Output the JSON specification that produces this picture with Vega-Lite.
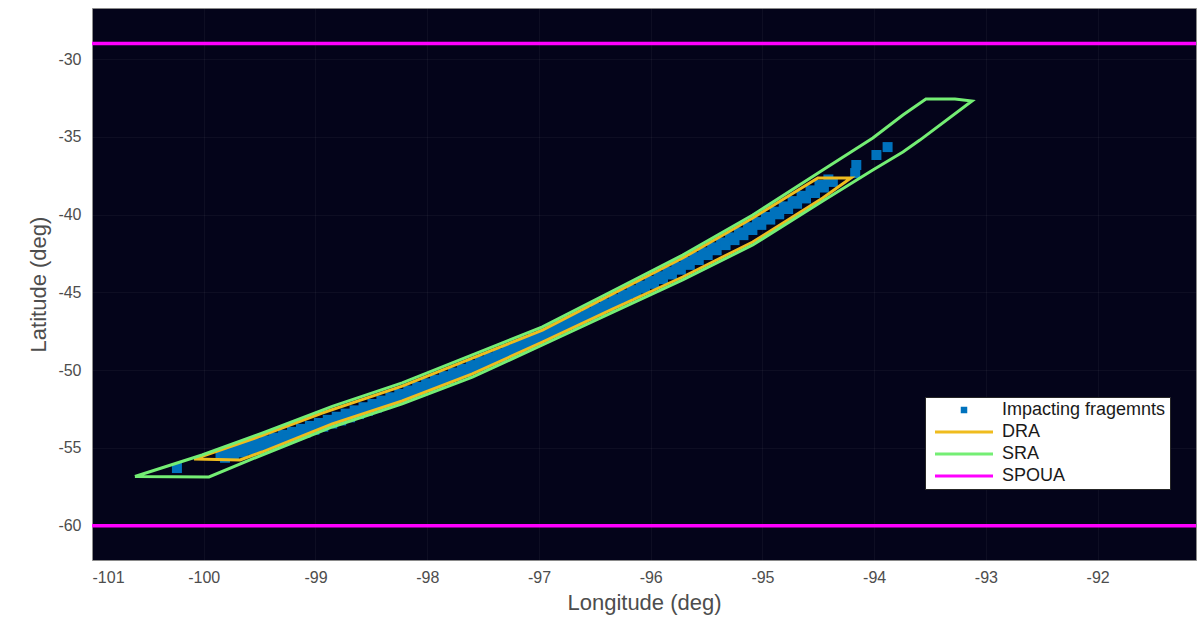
{
"$schema": "https://vega.github.io/schema/vega-lite/v6.json",
"width": 1104, "height": 552,
"autosize": {"type": "none"},
"padding": {"left": 92, "top": 8, "right": 6, "bottom": 60},
"background": "white",
"config": {
  "view": {"fill": "#04041a", "stroke": "#8a8a8a", "strokeWidth": 1},
  "font": "Liberation Sans",
  "axis": {"labelFont": "Liberation Sans", "labelFontSize": 16, "labelColor": "#4d4d4d", "titleFont": "Liberation Sans", "titleFontSize": 22, "titleFontWeight": "normal", "titleColor": "#4d4d4d", "domain": false, "ticks": false, "grid": true, "gridColor": "#ffffff", "gridOpacity": 0.045}
},
"datasets": {
  "spoua": [
    {"lon": -101, "lat": -29, "g": "a"}, {"lon": -91.12, "lat": -29, "g": "a"},
    {"lon": -101, "lat": -60, "g": "b"}, {"lon": -91.12, "lat": -60, "g": "b"}
  ],
  "sra": [
    {"i": 0, "lon": -100.616, "lat": -56.83}, {"i": 1, "lon": -100.015, "lat": -55.45}, {"i": 2, "lon": -99.478, "lat": -54.04},
    {"i": 3, "lon": -98.85, "lat": -52.33}, {"i": 4, "lon": -98.224, "lat": -50.82}, {"i": 5, "lon": -97.596, "lat": -49.02},
    {"i": 6, "lon": -96.969, "lat": -47.22}, {"i": 7, "lon": -96.342, "lat": -44.91}, {"i": 8, "lon": -95.714, "lat": -42.6},
    {"i": 9, "lon": -95.087, "lat": -40.03}, {"i": 10, "lon": -94.46, "lat": -37.13}, {"i": 11, "lon": -94.012, "lat": -35.08},
    {"i": 12, "lon": -93.743, "lat": -33.6}, {"i": 13, "lon": -93.537, "lat": -32.57}, {"i": 14, "lon": -93.277, "lat": -32.57},
    {"i": 15, "lon": -93.125, "lat": -32.7}, {"i": 16, "lon": -93.591, "lat": -35.21}, {"i": 17, "lon": -93.743, "lat": -35.98},
    {"i": 18, "lon": -94.012, "lat": -37.13}, {"i": 19, "lon": -94.46, "lat": -39.13}, {"i": 20, "lon": -95.087, "lat": -41.95},
    {"i": 21, "lon": -95.714, "lat": -44.2}, {"i": 22, "lon": -96.342, "lat": -46.29}, {"i": 23, "lon": -96.969, "lat": -48.38},
    {"i": 24, "lon": -97.596, "lat": -50.44}, {"i": 25, "lon": -98.224, "lat": -52.17}, {"i": 26, "lon": -98.85, "lat": -53.65},
    {"i": 27, "lon": -99.478, "lat": -55.45}, {"i": 28, "lon": -99.953, "lat": -56.86}, {"i": 29, "lon": -100.616, "lat": -56.83}
  ],
  "dra": [
    {"i": 0, "lon": -100.087, "lat": -55.71}, {"i": 1, "lon": -99.54, "lat": -54.36}, {"i": 2, "lon": -98.94, "lat": -52.75},
    {"i": 3, "lon": -98.224, "lat": -51.02}, {"i": 4, "lon": -97.596, "lat": -49.22}, {"i": 5, "lon": -96.969, "lat": -47.42},
    {"i": 6, "lon": -96.342, "lat": -45.1}, {"i": 7, "lon": -95.714, "lat": -42.79}, {"i": 8, "lon": -95.087, "lat": -40.22},
    {"i": 9, "lon": -94.504, "lat": -37.65}, {"i": 10, "lon": -94.209, "lat": -37.65}, {"i": 11, "lon": -94.46, "lat": -38.93},
    {"i": 12, "lon": -95.087, "lat": -41.76}, {"i": 13, "lon": -95.714, "lat": -44.01}, {"i": 14, "lon": -96.342, "lat": -46.07},
    {"i": 15, "lon": -96.969, "lat": -48.19}, {"i": 16, "lon": -97.596, "lat": -50.24}, {"i": 17, "lon": -98.224, "lat": -51.98},
    {"i": 18, "lon": -98.85, "lat": -53.46}, {"i": 19, "lon": -99.478, "lat": -55.26}, {"i": 20, "lon": -99.675, "lat": -55.77},
    {"i": 21, "lon": -100.087, "lat": -55.71}
  ],
  "pts": [
    {"lon": -100.24, "lat": -56.29}, {"lon": -94.17, "lat": -37.33}, {"lon": -94.16, "lat": -36.81}, {"lon": -93.98, "lat": -36.17}, {"lon": -93.88, "lat": -35.66},
    {"lon": -99.85, "lat": -55.37}, {"lon": -99.77, "lat": -55.2}, {"lon": -99.69, "lat": -55.03}, {"lon": -99.61, "lat": -54.86}, {"lon": -99.53, "lat": -54.69},
    {"lon": -99.45, "lat": -54.51}, {"lon": -99.37, "lat": -54.33}, {"lon": -99.29, "lat": -54.15}, {"lon": -99.21, "lat": -53.96}, {"lon": -99.13, "lat": -53.77},
    {"lon": -99.05, "lat": -53.58}, {"lon": -98.97, "lat": -53.39}, {"lon": -98.89, "lat": -53.19}, {"lon": -98.81, "lat": -52.99}, {"lon": -98.73, "lat": -52.79},
    {"lon": -98.65, "lat": -52.58}, {"lon": -98.57, "lat": -52.38}, {"lon": -98.49, "lat": -52.17}, {"lon": -98.41, "lat": -51.95}, {"lon": -98.33, "lat": -51.74},
    {"lon": -98.25, "lat": -51.52}, {"lon": -98.17, "lat": -51.3}, {"lon": -98.09, "lat": -51.07}, {"lon": -98.01, "lat": -50.84}, {"lon": -97.93, "lat": -50.61},
    {"lon": -97.85, "lat": -50.38}, {"lon": -97.77, "lat": -50.15}, {"lon": -97.69, "lat": -49.91}, {"lon": -97.61, "lat": -49.67}, {"lon": -97.53, "lat": -49.42},
    {"lon": -97.45, "lat": -49.17}, {"lon": -97.37, "lat": -48.93}, {"lon": -97.29, "lat": -48.67}, {"lon": -97.21, "lat": -48.42}, {"lon": -97.13, "lat": -48.16},
    {"lon": -97.05, "lat": -47.9}, {"lon": -96.97, "lat": -47.64}, {"lon": -96.89, "lat": -47.37}, {"lon": -96.81, "lat": -47.1}, {"lon": -96.73, "lat": -46.83},
    {"lon": -96.65, "lat": -46.55}, {"lon": -96.57, "lat": -46.28}, {"lon": -96.49, "lat": -46.0}, {"lon": -96.41, "lat": -45.71}, {"lon": -96.33, "lat": -45.43},
    {"lon": -96.25, "lat": -45.14}, {"lon": -96.17, "lat": -44.85}, {"lon": -96.09, "lat": -44.56}, {"lon": -96.01, "lat": -44.26}, {"lon": -95.93, "lat": -43.96},
    {"lon": -95.85, "lat": -43.66}, {"lon": -95.77, "lat": -43.35}, {"lon": -95.69, "lat": -43.04}, {"lon": -95.61, "lat": -42.73}, {"lon": -95.53, "lat": -42.42},
    {"lon": -95.45, "lat": -42.1}, {"lon": -95.37, "lat": -41.79}, {"lon": -95.29, "lat": -41.46}, {"lon": -95.21, "lat": -41.14}, {"lon": -95.13, "lat": -40.81},
    {"lon": -95.05, "lat": -40.48}, {"lon": -94.97, "lat": -40.15}, {"lon": -94.89, "lat": -39.81}, {"lon": -94.81, "lat": -39.47}, {"lon": -94.73, "lat": -39.13},
    {"lon": -94.65, "lat": -38.79}, {"lon": -94.57, "lat": -38.44}, {"lon": -94.49, "lat": -38.09}, {"lon": -94.41, "lat": -37.74},
    {"lon": -99.81, "lat": -55.63}, {"lon": -99.73, "lat": -55.46}, {"lon": -99.65, "lat": -55.29}, {"lon": -99.57, "lat": -55.12}, {"lon": -99.49, "lat": -54.94},
    {"lon": -99.41, "lat": -54.76}, {"lon": -99.33, "lat": -54.58}, {"lon": -99.25, "lat": -54.39}, {"lon": -99.17, "lat": -54.21}, {"lon": -99.09, "lat": -54.02},
    {"lon": -99.01, "lat": -53.83}, {"lon": -98.93, "lat": -53.63}, {"lon": -98.85, "lat": -53.43}, {"lon": -98.77, "lat": -53.23}, {"lon": -98.69, "lat": -53.03},
    {"lon": -98.61, "lat": -52.82}, {"lon": -98.53, "lat": -52.61}, {"lon": -98.45, "lat": -52.4}, {"lon": -98.37, "lat": -52.18}, {"lon": -98.29, "lat": -51.97},
    {"lon": -98.21, "lat": -51.75}, {"lon": -98.13, "lat": -51.52}, {"lon": -98.05, "lat": -51.3}, {"lon": -97.97, "lat": -51.07}, {"lon": -97.89, "lat": -50.84},
    {"lon": -97.81, "lat": -50.6}, {"lon": -97.73, "lat": -50.37}, {"lon": -97.65, "lat": -50.13}, {"lon": -97.57, "lat": -49.88}, {"lon": -97.49, "lat": -49.64},
    {"lon": -97.41, "lat": -49.39}, {"lon": -97.33, "lat": -49.14}, {"lon": -97.25, "lat": -48.89}, {"lon": -97.17, "lat": -48.63}, {"lon": -97.09, "lat": -48.37},
    {"lon": -97.01, "lat": -48.11}, {"lon": -96.93, "lat": -47.84}, {"lon": -96.85, "lat": -47.58}, {"lon": -96.77, "lat": -47.31}, {"lon": -96.69, "lat": -47.03},
    {"lon": -96.61, "lat": -46.76}, {"lon": -96.53, "lat": -46.48}, {"lon": -96.45, "lat": -46.2}, {"lon": -96.37, "lat": -45.91}, {"lon": -96.29, "lat": -45.63},
    {"lon": -96.21, "lat": -45.34}, {"lon": -96.13, "lat": -45.04}, {"lon": -96.05, "lat": -44.75}, {"lon": -95.97, "lat": -44.45}, {"lon": -95.89, "lat": -44.15},
    {"lon": -95.81, "lat": -43.85}, {"lon": -95.73, "lat": -43.54}, {"lon": -95.65, "lat": -43.23}, {"lon": -95.57, "lat": -42.92}, {"lon": -95.49, "lat": -42.6},
    {"lon": -95.41, "lat": -42.29}, {"lon": -95.33, "lat": -41.96}, {"lon": -95.25, "lat": -41.64}, {"lon": -95.17, "lat": -41.32}, {"lon": -95.09, "lat": -40.99},
    {"lon": -95.01, "lat": -40.66}, {"lon": -94.93, "lat": -40.32}, {"lon": -94.85, "lat": -39.98}, {"lon": -94.77, "lat": -39.64}, {"lon": -94.69, "lat": -39.3},
    {"lon": -94.61, "lat": -38.96}, {"lon": -94.53, "lat": -38.61}, {"lon": -94.45, "lat": -38.26}, {"lon": -94.37, "lat": -37.9}
  ]
},
"encoding": {
  "x": {"field": "lon", "type": "quantitative", "scale": {"domain": [-101, -91.12], "nice": false, "zero": false},
        "axis": {"values": [-101, -100, -99, -98, -97, -96, -95, -94, -93, -92], "labelExpr": "'' + datum.value", "title": "Longitude (deg)", "labelPadding": 9, "titlePadding": 7}},
  "y": {"field": "lat", "type": "quantitative", "scale": {"domain": [-62.2, -26.72], "nice": false, "zero": false},
        "axis": {"values": [-60, -55, -50, -45, -40, -35, -30], "labelExpr": "'' + datum.value", "title": "Latitude (deg)", "labelPadding": 11, "titlePadding": 7}}
},
"layer": [
  {"data": {"name": "spoua"}, "mark": {"type": "line", "strokeWidth": 3.5, "clip": true},
   "encoding": {"detail": {"field": "g"},
     "color": {"datum": "SPOUA", "type": "nominal",
       "scale": {"domain": ["Impacting fragemnts", "DRA", "SRA", "SPOUA"], "range": ["#0072BD", "#EFBC1E", "#74EE74", "#FF00FF"]},
       "legend": {"title": null, "orient": "none", "legendX": 833, "legendY": 389, "fillColor": "#ffffff", "strokeColor": "#262626",
         "padding": 4, "labelFont": "Liberation Sans", "labelFontSize": 18, "labelColor": "#1a1a1a", "labelLimit": 0, "symbolType": "stroke", "symbolSize": 100,
         "symbolStrokeWidth": 3, "rowPadding": 4, "cornerRadius": 0,
         "encode": {
           "symbols": {"update": {
             "shape": {"signal": "datum.value === 'Impacting fragemnts' ? 'M-0.35,-0.35H0.35V0.35H-0.35Z' : 'M-5.8,0H5.8'"},
             "x": {"value": 35},
             "stroke": {"scale": "color", "field": "value"},
             "fill": {"scale": "color", "field": "value"},
             "strokeWidth": {"value": 3},
             "opacity": {"value": 1}}},
           "labels": {"update": {"x": {"value": 73}}}}}}}},
  {"data": {"name": "pts"}, "mark": {"type": "square", "size": 100, "opacity": 1, "clip": true},
   "encoding": {"color": {"datum": "Impacting fragemnts", "type": "nominal"}}},
  {"data": {"name": "dra"}, "mark": {"type": "line", "strokeWidth": 3, "clip": true},
   "encoding": {"order": {"field": "i"}, "color": {"datum": "DRA", "type": "nominal"}}},
  {"data": {"name": "sra"}, "mark": {"type": "line", "strokeWidth": 3, "clip": true},
   "encoding": {"order": {"field": "i"}, "color": {"datum": "SRA", "type": "nominal"}}}
]
}
